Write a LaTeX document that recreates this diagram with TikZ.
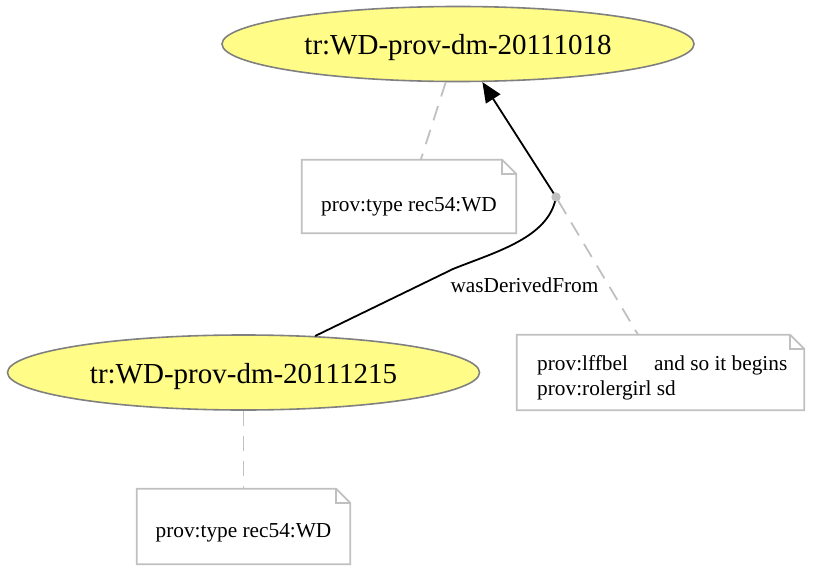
\documentclass[tikz,border=0pt]{standalone}
\usepackage{fontspec}
\setmainfont{Liberation Serif}
\usetikzlibrary{shapes.geometric,arrows.meta,calc}
\definecolor{entfill}{HTML}{FFFC87}
\definecolor{entdraw}{HTML}{808080}
\definecolor{notegray}{HTML}{C0C0C0}
\newcommand\provnote[1]{%
  \draw[notebox] (#1.south west) -- (#1.north west) -- ([xshift=-14pt]#1.north east) -- ([yshift=-14pt]#1.north east) -- (#1.south east) -- cycle;
  \draw[notebox] ([xshift=-14pt]#1.north east) |- ([yshift=-14pt]#1.north east);}
\tikzset{
  entity/.style={ellipse, draw=entdraw, fill=entfill, line width=1.6pt, minimum width=472pt, minimum height=75pt, inner sep=0pt, font=\fontsize{29}{34}\selectfont, text height=22pt, text depth=0pt},
  notebox/.style={draw=notegray, line width=1.8pt, line join=miter},
  notenode/.style={rectangle, draw=none, inner sep=0pt},
  notetext/.style={font=\fontsize{21.3}{26}\selectfont, inner sep=0pt, anchor=base},
  attach/.style={draw=notegray, line width=1.8pt, dash pattern=on 15pt off 10pt},
  rel/.style={draw=black, line width=1.8pt},
  dot/.style={circle, fill=notegray, draw=none, minimum size=9pt, inner sep=0pt},
}
\begin{document}
\begin{tikzpicture}[x=1pt,y=-1pt]
\useasboundingbox (0,0) rectangle (813,575);
% nodes
\node[entity] (e1) at (458,44) {tr:WD-prov-dm-20111018};
\node[entity] (e2) at (243.5,372.5) {tr:WD-prov-dm-20111215};
\node[notenode, minimum width=214pt, minimum height=73pt] (n1) at (409,196.5) {};
\node[notenode, minimum width=287pt, minimum height=75pt] (n2) at (660.5,372.5) {};
\node[notenode, minimum width=213pt, minimum height=75pt] (n3) at (243.5,526.5) {};
\node[dot] (p) at (556,197) {};
\coordinate (bend) at (453,269);
% notes
\provnote{n1}
\provnote{n2}
\provnote{n3}
% attachments
\draw[attach] (e1) -- (n1);
\draw[attach] (p) -- (n2);
\draw[attach] (e2) -- (n3);
% relation
\draw[rel] (e2.27) -- (bend) .. controls (495,252) and (549,238) .. (p.center);
\draw[rel, -{Triangle[length=20pt, width=17pt]}] (p.center) -- (e1);
\fill[notegray] (p.center) circle (4.5pt);
% texts
\node[notetext] (t1) at (409,211) {prov:type rec54:WD};
\node[notetext] (t3) at (243.5,537) {prov:type rec54:WD};
\node[notetext, anchor=base west] (t2a) at (537,370) {prov:lffbel};
\node[notetext, anchor=base west] (t2b) at (654,370) {and so it begins};
\node[notetext, anchor=base west] (t2c) at (537,395) {prov:rolergirl sd};
\node[notetext] (lbl) at (524.5,292) {wasDerivedFrom};
\end{tikzpicture}
\end{document}
